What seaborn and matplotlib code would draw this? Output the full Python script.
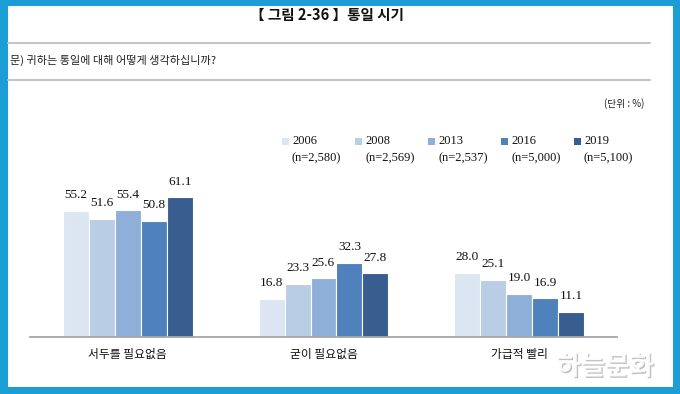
import matplotlib
matplotlib.use("Agg")
import matplotlib.pyplot as plt
import matplotlib.patheffects as pe
from matplotlib.patches import Rectangle
import seaborn as sns
import pandas as pd

categories = ["서두를 필요없음", "굳이 필요없음", "가급적 빨리"]
years = ["2006", "2008", "2013", "2016", "2019"]
sample_sizes = ["(n=2,580)", "(n=2,569)", "(n=2,537)", "(n=5,000)", "(n=5,100)"]
values_2006 = [55.2, 16.8, 28.0]
values_2008 = [51.6, 23.3, 25.1]
values_2013 = [55.4, 25.6, 19.0]
values_2016 = [50.8, 32.3, 16.9]
values_2019 = [61.1, 27.8, 11.1]
colors = ["#dce6f2", "#b9cde5", "#8eb0d8", "#4f81bd", "#385e8f"]

title = "【 그림 2-36 】통일 시기"
question = "문) 귀하는 통일에 대해 어떻게 생각하십니까?"
unit = "(단위 : %)"

series = [values_2006, values_2008, values_2013, values_2016, values_2019]
rows = []
for y, vals in zip(years, series):
    for c, v in zip(categories, vals):
        rows.append({"category": c, "year": y, "value": v})
df = pd.DataFrame(rows)

sns.set_theme(style="white")
KR = ["Noto Sans CJK KR", "DejaVu Sans"]
SERIF = ["Liberation Serif", "DejaVu Serif"]
plt.rcParams["font.family"] = KR

W, H = 680, 394
fig = plt.figure(figsize=(6.8, 3.94), dpi=100)
fig.patch.set_facecolor("#1b9dd5")

def fx(x):
    return x / W

def fy(y):
    return 1 - y / H

# white panel
fig.patches.append(Rectangle((fx(8), fy(387)), fx(673 - 8), (387 - 6) / H,
                             transform=fig.transFigure, facecolor="white",
                             edgecolor="none", zorder=-5))

# header lines
for yy in (42.5, 80):
    fig.add_artist(plt.Line2D([fx(8), fx(650)], [fy(yy), fy(yy)],
                              transform=fig.transFigure, color="#c4c4c4", lw=1.5))

fig.text(fx(327), fy(15), title, ha="center", va="center", fontsize=10.5,
         fontweight="bold", family=KR, color="#111111")
fig.text(fx(10), fy(60), question, ha="left", va="center", fontsize=8,
         family=KR, color="#222222")
fig.text(fx(644), fy(104), unit, ha="right", va="center", fontsize=7,
         family=KR, color="#222222")

# axes
ax = fig.add_axes([fx(30), fy(337), fx(617 - 30), 160 / H])
ax.set_zorder(1)
ax.set_facecolor("none")
sns.barplot(data=df, x="category", y="value", hue="year", order=categories,
            hue_order=years, palette=colors, width=0.664, saturation=1,
            edgecolor="white", linewidth=0.8, legend=False, ax=ax)
ax.set_xlim(-0.5, 2.5)
ax.set_ylim(0, 70)
for cont in ax.containers:
    ax.bar_label(cont, fmt="%.1f", padding=7, fontsize=9.5, family=SERIF,
                 color="#111111")
ax.set_xlabel("")
ax.set_ylabel("")
ax.set_yticks([])
ax.tick_params(axis="x", length=0, pad=8, labelsize=8.5)
for lab in ax.get_xticklabels():
    lab.set_family(KR)
    lab.set_color("#111111")
for s in ("top", "right", "left"):
    ax.spines[s].set_visible(False)
ax.spines["bottom"].set_color("#a6a6a6")
ax.spines["bottom"].set_linewidth(1.3)

# legend
leg_x = [282, 355, 428, 501, 574]
for x, yr, n, col in zip(leg_x, years, sample_sizes, colors):
    fig.patches.append(Rectangle((fx(x), fy(144.5)), fx(7), 7 / H,
                                 transform=fig.transFigure, facecolor=col,
                                 edgecolor="none"))
    fig.text(fx(x + 10), fy(141), yr, ha="left", va="center", fontsize=9,
             family=SERIF, color="#111111")
    fig.text(fx(x + 10), fy(158), n, ha="left", va="center", fontsize=9,
             family=SERIF, color="#111111")

# watermark
fig.text(fx(605), fy(367), "하늘문화", ha="center", va="center", fontsize=19,
         fontweight="bold", family=KR, color="white", alpha=0.95, zorder=5,
         path_effects=[pe.withSimplePatchShadow(offset=(1, -1),
                                                shadow_rgbFace="#999999",
                                                alpha=0.6)])

fig.savefig("out.png", dpi=100, facecolor=fig.get_facecolor())
